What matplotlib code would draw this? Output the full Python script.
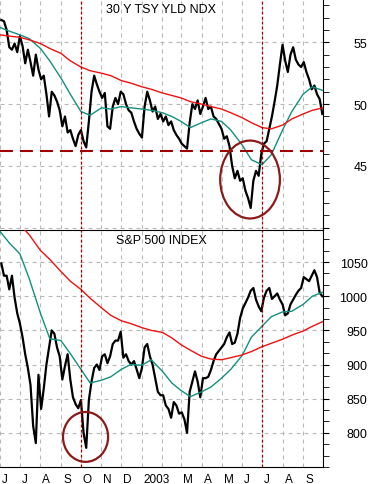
import matplotlib
matplotlib.use('Agg')
import matplotlib.pyplot as plt
import matplotlib.ticker as mticker
import matplotlib.dates as mdates
import matplotlib.transforms as mtransforms
from matplotlib.patches import Ellipse
import pandas as pd

plt.rcParams['font.family'] = ['Liberation Sans', 'DejaVu Sans']

# price samples every 4 calendar days, Jun 3 2002 .. Sep 30 2003
price_dates = pd.date_range('2002-06-03', periods=122, freq='4D')
# moving averages sampled on the 1st and 15th of each month
ma_dates = pd.date_range('2002-06-01', '2003-10-01', freq='SMS')

tyx = [56.8, 56.7, 56.0, 54.6, 54.4, 54.9, 54.2, 55.5, 54.7, 53.3,
       54.4, 53.4, 52.3, 54.0, 52.8, 52.0, 52.3, 50.8, 49.0, 51.0,
       50.7, 50.2, 49.5, 48.2, 49.0, 47.7, 47.9, 47.2, 46.6, 47.5,
       47.9, 47.0, 46.5, 48.6, 51.0, 52.3, 51.6, 51.0, 50.5, 50.9,
       48.2, 48.0, 49.8, 50.5, 50.0, 51.0, 50.8, 50.0, 49.5, 49.3,
       48.6, 48.0, 47.6, 47.3, 49.8, 51.0, 50.3, 49.4, 49.8, 48.8,
       49.2, 48.6, 49.0, 48.3, 48.6, 47.9, 47.5, 47.2, 46.8, 46.6,
       46.4, 48.5, 50.0, 49.6, 50.3, 49.2, 49.8, 50.5, 49.6, 49.8,
       49.0, 48.8, 48.4, 48.0, 47.2, 47.4, 46.6, 45.0, 44.0, 44.6,
       43.8, 44.0, 43.0, 42.4, 41.6, 43.8, 44.6, 44.2, 46.0, 46.8,
       47.0, 48.0, 49.0, 50.2, 51.5, 53.2, 54.8, 53.5, 52.6, 54.0,
       54.6, 53.6, 53.2, 53.0, 53.4, 52.6, 52.0, 51.2, 51.5, 50.8,
       50.4, 49.2]
tyx_ma50 = [56.2, 55.9, 55.6, 55.3, 54.5, 53.5, 52.1, 50.8, 49.4, 49.1,
            49.7, 49.6, 49.8, 49.7, 49.6, 49.5, 49.3, 49.0, 48.6, 48.1,
            48.5, 48.8, 48.6, 47.9, 46.7, 45.5, 45.1, 45.9, 47.9, 49.4,
            50.8, 51.4, 51.1]
tyx_ma200 = [55.6, 55.5, 55.4, 55.2, 54.9, 54.5, 54.1, 53.5, 53.0, 52.7,
             52.5, 52.3, 51.9, 51.7, 51.4, 51.2, 50.9, 50.7, 50.5, 50.2,
             50.0, 49.8, 49.6, 49.3, 48.9, 48.5, 48.1, 48.0, 48.3, 48.8,
             49.2, 49.5, 49.7]

spx = [1048, 1030, 1030, 1010, 1030, 998, 975, 960, 940, 915,
       895, 870, 810, 785, 885, 835, 865, 900, 925, 950,
       945, 925, 912, 878, 898, 915, 878, 852, 842, 836,
       848, 800, 778, 848, 875, 895, 900, 892, 912, 915,
       902, 912, 930, 935, 935, 948, 910, 915, 905, 900,
       905, 893, 880, 895, 925, 930, 912, 900, 880, 860,
       855, 855, 840, 835, 822, 845, 840, 828, 830, 820,
       800, 860, 875, 890, 875, 852, 880, 880, 882, 892,
       905, 915, 920, 925, 930, 940, 947, 930, 932, 945,
       968, 982, 990, 998, 1008, 1012, 995, 985, 978, 998,
       1008, 1012, 996, 1000, 1004, 995, 988, 972, 975, 988,
       995, 1002, 1008, 1012, 1028, 1025, 1022, 1030, 1038, 1028,
       1005, 1000]
spx_ma50 = [1095, 1078, 1062, 1026, 975, 938, 935, 916, 893, 873,
            877, 882, 893, 900, 899, 907, 890, 873, 862, 853,
            860, 867, 880, 893, 913, 940, 956, 970, 977, 978,
            988, 1000, 1006]
spx_ma200 = [1135, 1121, 1105, 1090, 1067, 1054, 1036, 1022, 1010, 997,
             983, 972, 964, 960, 954, 950, 947, 939, 929, 921,
             912, 908, 907, 910, 914, 919, 926, 931, 937, 943,
             949, 956, 963]

month_starts = pd.date_range('2002-06-01', '2003-09-01', freq='MS')
month_labels = ['J', 'J', 'A', 'S', 'O', 'N', 'D', '2003', '',
                'M', 'A', 'M', 'J', 'J', 'A', 'S']

fig = plt.figure(figsize=(3.71, 4.85), dpi=100)
ax1 = fig.add_axes([0, 0.5258, 323 / 371, 0.4742])
ax2 = fig.add_axes([0, 0.0351, 323 / 371, 0.4887])

dark_red = '#990000'
teal = '#12907e'
red = '#f01010'

for ax, price, ma50, ma200 in [(ax1, tyx, tyx_ma50, tyx_ma200),
                               (ax2, spx, spx_ma50, spx_ma200)]:
    ax.plot(price_dates, price, color='black', lw=1.6, zorder=3)
    ax.plot(ma_dates, ma50, color=teal, lw=1.0, zorder=4)
    ax.plot(ma_dates, ma200, color=red, lw=1.0, zorder=4)
    ax.set_xlim(pd.Timestamp('2002-06-01'), pd.Timestamp('2003-10-01'))
    ax.set_xticks(month_starts)
    ax.grid(True, color='#b8b8b8', linestyle=(0, (3.6, 3.6)), lw=0.8, zorder=0)
    for d in ['2002-10-01', '2003-07-01']:
        ax.axvline(pd.Timestamp(d), color=dark_red, lw=0.9,
                   linestyle=(0, (2.2, 1.8)), zorder=5)
    ax.spines['left'].set_visible(False)
    ax.yaxis.tick_right()
    ax.tick_params(axis='y', which='both', direction='out', length=4,
                   labelsize=9, pad=28)

# top panel
ax1.set_ylim(39.9, 58.5)
ax1.set_yticks([40, 45, 50, 55])
ax1.set_yticklabels(['', '45', '50', '55'])
ax1.yaxis.set_minor_locator(mticker.MultipleLocator(1))
ax1.tick_params(axis='x', length=0, labelbottom=False)
ax1.spines['top'].set_visible(False)
ax1.spines['bottom'].set_visible(False)
ax1.axhline(46.2, color='#a00000', lw=1.5, linestyle=(0, (6.2, 3.4)), zorder=5)
ax1.add_patch(Ellipse((mdates.date2num(pd.Timestamp('2003-06-13')), 43.9),
                      90, 6.3, fill=False, edgecolor='#8b1a1a', lw=1.6, zorder=6))
ax1.text(0.5, 0.957, '30 Y TSY YLD NDX', transform=ax1.transAxes,
         ha='center', va='center', fontsize=9)
for lab in ax1.get_yticklabels():
    lab.set_ha('right')

# bottom panel
ax2.set_ylim(750, 1097)
ax2.set_yticks([800, 850, 900, 950, 1000, 1050])
ax2.yaxis.set_minor_locator(mticker.MultipleLocator(50 / 3))
ax2.set_xticklabels(month_labels, ha='left')
ax2.tick_params(axis='x', length=0, labelsize=8.5, pad=4)
offset = mtransforms.ScaledTranslation(2 / 100, 0, fig.dpi_scale_trans)
for lab in ax2.get_xticklabels():
    lab.set_transform(lab.get_transform() + offset)
ax2.add_patch(Ellipse((mdates.date2num(pd.Timestamp('2002-10-08')), 794),
                      68, 73, fill=False, edgecolor='#8b1a1a', lw=1.6, zorder=6))
ax2.text(0.5, 0.958, 'S&P 500 INDEX', transform=ax2.transAxes,
         ha='center', va='center', fontsize=9)
for lab in ax2.get_yticklabels():
    lab.set_ha('right')

fig.savefig('out.png', dpi=100)
